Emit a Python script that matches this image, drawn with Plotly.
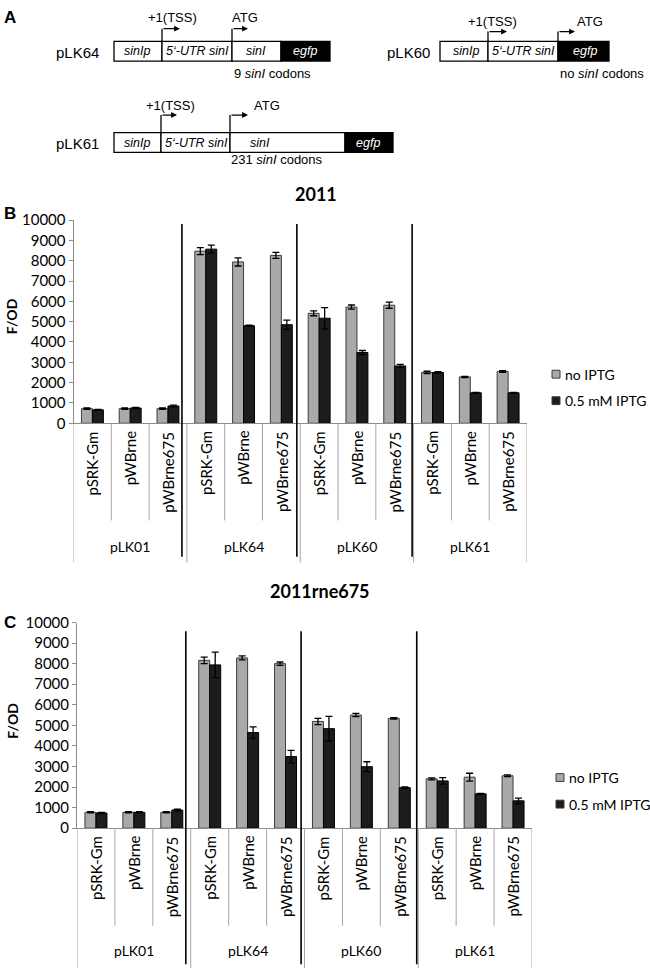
import plotly.graph_objects as go

# ---------------- data ----------------
groups = ["pLK01", "pLK64", "pLK60", "pLK61"]
subs = ["pSRK-Gm", "pWBrne", "pWBrne675"]
categories = [g + " " + s for g in groups for s in subs]
sub_labels = [s for g in groups for s in subs]

series_names = ["no IPTG", "0.5 mM IPTG"]

# Panel B: strain 2011
b_no_iptg = [720, 720, 720, 8470, 7940, 8260, 5410, 5720, 5810, 2500, 2280, 2550]
b_no_iptg_err = [30, 30, 30, 170, 200, 150, 120, 100, 150, 60, 30, 40]
b_iptg = [660, 750, 850, 8570, 4800, 4850, 5170, 3480, 2820, 2500, 1500, 1500]
b_iptg_err = [20, 30, 40, 200, 30, 230, 520, 100, 80, 40, 20, 20]

# Panel C: strain 2011rne675
c_no_iptg = [770, 770, 770, 8160, 8280, 8000, 5190, 5500, 5340, 2400, 2480, 2550]
c_no_iptg_err = [30, 30, 30, 160, 100, 80, 150, 80, 40, 50, 190, 40]
c_iptg = [740, 770, 880, 7940, 4650, 3480, 4840, 2990, 1970, 2300, 1670, 1330]
c_iptg_err = [30, 30, 40, 620, 280, 300, 600, 240, 40, 160, 20, 130]

y_ticks = list(range(0, 10001, 1000))
y_tick_text = [str(v) for v in y_ticks]

# ---------------- helpers ----------------
W, H = 650, 979
def px(x):
    return x / W
def py(y):
    return 1 - y / H

GREY = "#A9A9A9"
BLACK = "#1C1C1C"
FONT = "Lato"
ARIAL = "Liberation Sans"

fig = go.Figure()
shapes = []
ann = []

panels = [
    dict(xa="x", ya="y", xdom=(73.5, 527), y0=421, y10k=214,
         data=(b_no_iptg, b_no_iptg_err, b_iptg, b_iptg_err),
         title="2011", title_xy=(316, 187), letter="B", letter_y=207,
         fod_xy=(11, 312), sep_top=218, sub_end=520, grp_end=563, sep_end=557,
         grp_label_y=547, leg_y=(371, 398), leg_x=552),
    dict(xa="x2", ya="y2", xdom=(77, 532), y0=833.5, y10k=624,
         data=(c_no_iptg, c_no_iptg_err, c_iptg, c_iptg_err),
         title="2011rne675", title_xy=(320, 592), letter="C", letter_y=624,
         fod_xy=(13, 724), sep_top=633, sub_end=933, grp_end=976, sep_end=972,
         grp_label_y=958, leg_y=(782, 809), leg_x=556),
]

layout_axes = {}
for i, p in enumerate(panels):
    no, no_err, ip, ip_err = p["data"]
    fig.add_trace(go.Bar(
        x=categories, y=no, name=series_names[0], showlegend=False,
        xaxis=p["xa"], yaxis=p["ya"],
        marker=dict(color=GREY, line=dict(color="#3C3C3C", width=1)),
        error_y=dict(type="data", array=no_err, color="#000000", thickness=1.3, width=3.5),
    ))
    fig.add_trace(go.Bar(
        x=categories, y=ip, name=series_names[1], showlegend=False,
        xaxis=p["xa"], yaxis=p["ya"],
        marker=dict(color=BLACK, line=dict(color="#000000", width=1)),
        error_y=dict(type="data", array=ip_err, color="#000000", thickness=1.3, width=3.5),
    ))
    xname = "xaxis" if i == 0 else "xaxis2"
    yname = "yaxis" if i == 0 else "yaxis2"
    layout_axes[xname] = dict(
        domain=[px(p["xdom"][0]), px(p["xdom"][1])], anchor=p["ya"],
        type="category", categoryorder="array", categoryarray=categories,
        range=[-0.5, len(categories) - 0.5],
        showline=True, linecolor="#8C8C8C", linewidth=1,
        ticks="", showticklabels=False, showgrid=False, zeroline=False,
    )
    layout_axes[yname] = dict(
        domain=[py(p["y0"]), py(p["y10k"])], anchor=p["xa"],
        range=[0, 10000], tickmode="array", tickvals=y_ticks, ticktext=y_tick_text,
        showline=True, linecolor="#8C8C8C", linewidth=1,
        ticks="outside", ticklen=4, tickcolor="#8C8C8C",
        showgrid=False, zeroline=False,
        tickfont=dict(family=FONT, size=15, color="#000000"),
    )
    xref = p["xa"]
    # category box lines
    n = len(categories)
    for k in range(n + 1):
        is_grp = (k % 3 == 0)
        shapes.append(dict(type="line", xref=xref, yref="paper",
                           x0=k - 0.5, x1=k - 0.5,
                           y0=py(p["y0"]), y1=py(p["grp_end"] if is_grp else p["sub_end"]),
                           line=dict(color="#A6A6A6", width=1)))
    # black group separators
    for g, off in zip(range(1, 4), [-0.13, -0.09, -0.04]):
        xx = 3 * g - 0.5 + off
        shapes.append(dict(type="line", xref=xref, yref="paper",
                           x0=xx, x1=xx, y0=py(p["sep_top"]), y1=py(p["sep_end"]),
                           line=dict(color="#000000", width=1.6)))
    # sub-category labels
    for cat, lab in zip(categories, sub_labels):
        ann.append(dict(xref=xref, yref="paper", x=cat, y=py(p["y0"] + 6),
                        text=lab, showarrow=False, textangle=-90,
                        xanchor="center", yanchor="top",
                        font=dict(family=FONT, size=15, color="#000000")))
    # group labels
    for gi, g in enumerate(groups):
        ann.append(dict(xref=xref, yref="paper", x=categories[3 * gi + 1], y=py(p["grp_label_y"]),
                        text=g, showarrow=False, xanchor="center", yanchor="middle",
                        font=dict(family=FONT, size=14, color="#000000")))
    # title
    ann.append(dict(xref="paper", yref="paper", x=px(p["title_xy"][0]), y=py(p["title_xy"][1]),
                    text="<b>" + p["title"] + "</b>", showarrow=False,
                    xanchor="center", yanchor="middle",
                    font=dict(family=FONT, size=18, color="#000000")))
    # F/OD
    ann.append(dict(xref="paper", yref="paper", x=px(p["fod_xy"][0]), y=py(p["fod_xy"][1]),
                    text="<b>F/OD</b>", showarrow=False, textangle=-90,
                    xanchor="center", yanchor="middle",
                    font=dict(family=FONT, size=14, color="#000000")))
    # panel letter
    ann.append(dict(xref="paper", yref="paper", x=px(2), y=py(p["letter_y"]),
                    text="<b>" + p["letter"] + "</b>", showarrow=False,
                    xanchor="left", yanchor="middle",
                    font=dict(family=ARIAL, size=17, color="#000000")))
    # legend (manual)
    for name, col, ly in zip(series_names, [GREY, BLACK], p["leg_y"]):
        lx = p["leg_x"]
        shapes.append(dict(type="rect", xref="paper", yref="paper",
                           x0=px(lx), x1=px(lx + 8), y0=py(ly + 4), y1=py(ly - 4),
                           fillcolor=col, line=dict(color="#3C3C3C", width=1)))
        ann.append(dict(xref="paper", yref="paper", x=px(lx + 11), y=py(ly),
                        text=name, showarrow=False, xanchor="left", yanchor="middle",
                        font=dict(family=FONT, size=14, color="#000000")))

# ---------------- panel A schematic ----------------
ann.append(dict(xref="paper", yref="paper", x=px(2), y=py(8), text="<b>A</b>",
                showarrow=False, xanchor="left", yanchor="middle",
                font=dict(family=ARIAL, size=17, color="#000000")))

constructs = [
    dict(name="pLK64", name_x=77, top=32, bot=52,
         segs=[(114, 162, "sinIp", 137, False), (162, 232, "5‘-UTR sinI", 197, False),
               (232, 281, "sinI", 256, False), (281, 330, "egfp", 305, True)],
         tss=(162, 19, 180, 172, 8), atg=(232, 19, 248, 245, 8),
         note=("9 <i>sinI</i> codons", 272, 65)),
    dict(name="pLK60", name_x=408, top=32, bot=52,
         segs=[(440, 488, "sinIp", 466, False), (488, 558, "5‘-UTR sinI", 523, False),
               (558, 609, "egfp", 585, True)],
         tss=(488, 22, 507, 492, 12), atg=(558, 22, 575, 590, 12),
         note=("no <i>sinI</i> codons", 602, 65)),
    dict(name="pLK61", name_x=77, top=125, bot=145,
         segs=[(114, 161, "sinIp", 137, False), (161, 230, "5‘-UTR sinI", 196, False),
               (230, 345, "sinI", 260, False), (345, 393, "egfp", 368, True)],
         tss=(161, 107, 177, 170, 97), atg=(230, 107, 248, 267, 97),
         note=("231 <i>sinI</i> codons", 277, 152)),
]

for c in constructs:
    mid = (c["top"] + c["bot"]) / 2
    ann.append(dict(xref="paper", yref="paper", x=px(c["name_x"]), y=py(mid + 1),
                    text=c["name"], showarrow=False, xanchor="center", yanchor="middle",
                    font=dict(family=ARIAL, size=15, color="#000000")))
    for x0, x1, t, tx, dark in c["segs"]:
        shapes.append(dict(type="rect", xref="paper", yref="paper",
                           x0=px(x0), x1=px(x1), y0=py(c["bot"]), y1=py(c["top"]),
                           fillcolor="#000000" if dark else "#FFFFFF",
                           line=dict(color="#000000", width=1.3)))
        ann.append(dict(xref="paper", yref="paper", x=px(tx), y=py(mid),
                        text="<i>" + t + "</i>", showarrow=False,
                        xanchor="center", yanchor="middle",
                        font=dict(family=ARIAL, size=12.5,
                                  color="#FFFFFF" if dark else "#000000")))
    for (ax_x, top_y, end_x, tx, ty), label in [(c["tss"], "+1(TSS)"), (c["atg"], "ATG")]:
        shapes.append(dict(type="line", xref="paper", yref="paper",
                           x0=px(ax_x), x1=px(ax_x), y0=py(c["top"]), y1=py(top_y),
                           line=dict(color="#000000", width=1.3)))
        ann.append(dict(xref="paper", yref="paper", x=px(end_x), y=py(top_y),
                        ax=-(end_x - ax_x), ay=0, text="", showarrow=True,
                        arrowhead=2, arrowsize=0.9, arrowwidth=1.3, arrowcolor="#000000",
                        standoff=0, startstandoff=0))
        ann.append(dict(xref="paper", yref="paper", x=px(tx), y=py(ty),
                        text=label, showarrow=False, xanchor="center", yanchor="middle",
                        font=dict(family=ARIAL, size=13, color="#000000")))
    nt, nx, ny = c["note"]
    ann.append(dict(xref="paper", yref="paper", x=px(nx), y=py(ny),
                    text=nt, showarrow=False, xanchor="center", yanchor="middle",
                    font=dict(family=ARIAL, size=13, color="#000000")))

fig.update_layout(
    width=W, height=H, autosize=False,
    margin=dict(l=0, r=0, t=0, b=0),
    paper_bgcolor="#FFFFFF", plot_bgcolor="#FFFFFF",
    barmode="group", bargap=0.42, bargroupgap=0,
    font=dict(family=FONT, size=14, color="#000000"),
    shapes=shapes, annotations=ann,
    showlegend=False,
    **layout_axes,
)

fig.write_html("out.html", config={"displayModeBar": False},
               post_script="document.body.style.margin='0';")
